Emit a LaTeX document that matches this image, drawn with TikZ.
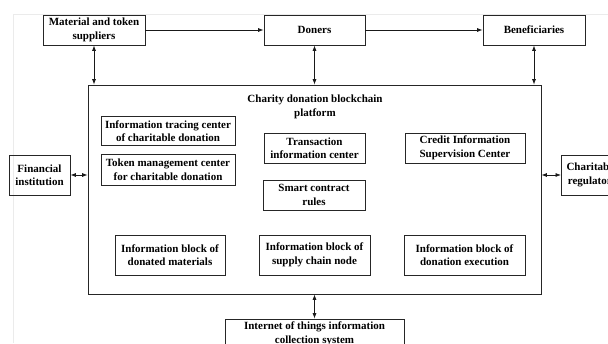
\documentclass[tikz,border=0pt]{standalone}
\usepackage{fontspec}
\setmainfont{Liberation Serif}
\usetikzlibrary{arrows.meta}
\begin{document}
\begin{tikzpicture}[x=1pt,y=-1pt,
  box/.style={draw=black!85,line width=0.8pt,align=center,inner sep=0pt,
    font=\fontsize{11}{13.5}\selectfont\bfseries},
  conn/.style={line width=0.7pt,draw=black!90,-{Latex[length=5.5pt,width=4pt]}},
  biconn/.style={line width=0.7pt,draw=black!90,{Latex[length=5.5pt,width=4pt]}-{Latex[length=5.5pt,width=4pt]}}]
\useasboundingbox (0,0) rectangle (608,343);
\clip (0,0) rectangle (608,343);
\draw[black!8,line width=0.6pt] (13,343) -- (13,14) -- (608,14);
% top row
\node[box,minimum width=102pt,minimum height=30pt] (sup) at (94,30) {Material and token\\suppliers};
\node[box,minimum width=101pt,minimum height=30pt] (don) at (314.5,30) {Doners};
\node[box,minimum width=102pt,minimum height=30pt] (ben) at (534,30) {Beneficiaries};
% platform
\node[draw=black!85,line width=0.8pt,minimum width=453pt,minimum height=209pt,inner sep=0pt] (plat) at (314.5,189.5) {};
\node[align=center,inner sep=0pt,font=\fontsize{11}{14}\selectfont\bfseries] (title) at (315,106.5) {Charity donation blockchain\\platform};
\node[box,minimum width=134pt,minimum height=29pt] (trace) at (168,131) {Information tracing center\\of charitable donation};
\node[box,minimum width=134pt,minimum height=31pt] (token) at (168,169.5) {Token management center\\for charitable donation};
\node[box,minimum width=101pt,minimum height=30pt] (trans) at (314.5,148) {Transaction\\information center};
\node[box,minimum width=102pt,minimum height=30pt] (smart) at (314,195) {Smart contract\\rules};
\node[box,minimum width=120pt,minimum height=30pt] (credit) at (465,148) {Credit Information\\Supervision Center};
\node[box,minimum width=110pt,minimum height=40pt] (blk1) at (170,255) {Information block of\\donated materials};
\node[box,minimum width=111pt,minimum height=40pt] (blk2) at (314.5,255) {Information block of\\supply chain node};
\node[box,minimum width=121pt,minimum height=40pt] (blk3) at (464.5,255) {Information block of\\donation execution};
% sides
\node[box,minimum width=61pt,minimum height=40pt] (fin) at (39.5,175) {Financial\\institution};
\node[box,minimum width=61pt,minimum height=40pt,anchor=west] (reg) at (561,175) {Charitable\\regulators};
% bottom
\node[box,minimum width=179pt,minimum height=30pt] (iot) at (314.5,334) {Internet of things information\\collection system};
% connectors
\draw[conn] (sup.east) -- (don.west);
\draw[conn] (don.east) -- (ben.west);
\draw[biconn] (sup.south) -- (sup.south |- plat.north);
\draw[biconn] (don.south) -- (don.south |- plat.north);
\draw[biconn] (ben.south) -- (ben.south |- plat.north);
\draw[biconn] (fin.east) -- (fin.east -| plat.west);
\draw[biconn] (plat.east |- reg.west) -- (reg.west);
\draw[biconn] (plat.south) -- (iot.north);
\end{tikzpicture}
\end{document}
